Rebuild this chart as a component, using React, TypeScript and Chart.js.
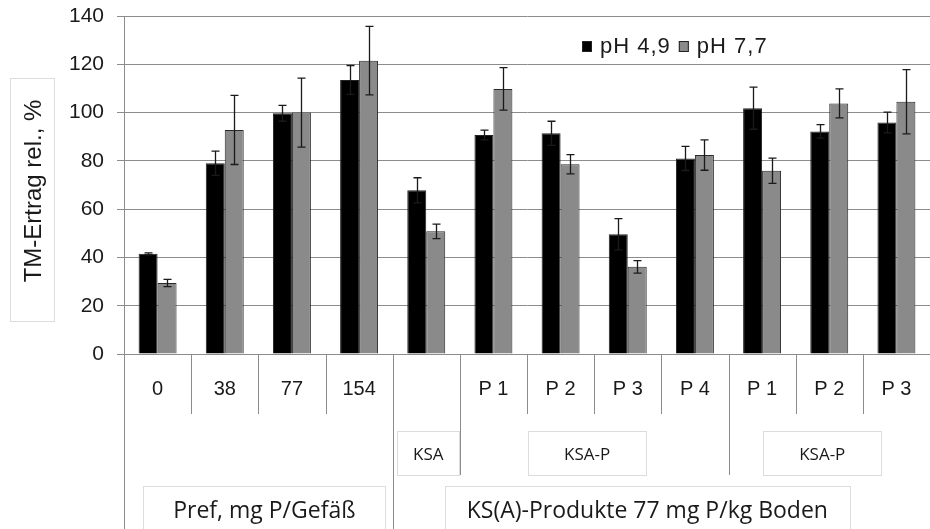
import React, { useEffect, useRef } from 'react';
import { Chart, registerables } from 'chart.js';

Chart.register(...registerables);

// ---- data ----
const categories = ['0', '38', '77', '154', '', 'P 1', 'P 2', 'P 3', 'P 4', 'P 1', 'P 2', 'P 3'];
const seriesLabels = ['pH 4,9', 'pH 7,7'];
const valuesPh49 = [41.5, 79, 99.7, 113.5, 67.8, 90.7, 91.4, 49.6, 81, 101.8, 92.2, 95.9];
const valuesPh77 = [29.4, 92.8, 100, 121.5, 50.8, 109.8, 78.6, 36.1, 82.4, 75.9, 103.8, 104.5];
const errorsPh49 = [0.4, 5, 3.3, 6, 5.2, 2, 5, 6.5, 5, 8.7, 2.8, 4.3];
const errorsPh77 = [1.5, 14.3, 14.3, 14.2, 3, 8.8, 4, 2.6, 6.3, 5.2, 6, 13.3];
const yTicks = [0, 20, 40, 60, 80, 100, 120, 140];
const yTitle = 'TM-Ertrag rel., %';
// group levels: [label, first category index, last category index]
const level2Groups: [string, number, number][] = [
  ['KSA', 4, 4],
  ['KSA-P', 5, 8],
  ['KSA-P', 9, 11],
];
const level3Groups: [string, number, number][] = [
  ['Pref, mg P/Gefäß', 0, 3],
  ['KS(A)-Produkte 77 mg P/kg Boden', 4, 11],
];

// ---- styles ----
const GRID = '#8c8c8c';
const BOX = '#dcdcdc';
const TEXT = '#1a1a1a';
const SANS = '"Liberation Sans", Arial, sans-serif';
const CAL = '"Open Sans", Lato, sans-serif';
const level2Pad = [16, 36, 36];
const level2Shift = [2, -7, -7];
const level3Pad = [30, 22];
const level3Shift = [6, -14];

const errorBarPlugin = {
  id: 'errorBars',
  afterDatasetsDraw(chart: any) {
    const ctx = chart.ctx;
    const y = chart.scales.y;
    const errs = [errorsPh49, errorsPh77];
    ctx.save();
    ctx.strokeStyle = '#1a1a1a';
    ctx.lineWidth = 1.3;
    chart.data.datasets.forEach((ds: any, d: number) => {
      const meta = chart.getDatasetMeta(d);
      meta.data.forEach((bar: any, i: number) => {
        const v = ds.data[i];
        const e = errs[d][i];
        const x = Math.round(bar.x) + 0.5;
        const yt = y.getPixelForValue(v + e);
        const yb = y.getPixelForValue(v - e);
        ctx.beginPath();
        ctx.moveTo(x, yt);
        ctx.lineTo(x, yb);
        ctx.moveTo(x - 4, yt);
        ctx.lineTo(x + 4, yt);
        ctx.moveTo(x - 4, yb);
        ctx.lineTo(x + 4, yb);
        ctx.stroke();
      });
    });
    ctx.restore();
  },
};

const decorPlugin = {
  id: 'decor',
  afterDraw(chart: any) {
    const ctx = chart.ctx;
    const xs = chart.scales.x;
    const area = chart.chartArea;
    const H = chart.height;
    const n = categories.length;
    const boundary = (b: number) => {
      if (b === 0) return area.left;
      if (b === n) return area.right;
      return (xs.getPixelForValue(b - 1) + xs.getPixelForValue(b)) / 2;
    };
    ctx.save();
    // separators
    const level3Starts = level3Groups.map((g) => g[1]);
    const level2Starts = level2Groups.map((g) => g[1]);
    ctx.strokeStyle = GRID;
    ctx.lineWidth = 1;
    for (let b = 0; b < n; b++) {
      let bottom = 414;
      if (level3Starts.includes(b)) bottom = H;
      else if (level2Starts.includes(b)) bottom = 475;
      const x = Math.round(boundary(b)) + 0.5;
      ctx.beginPath();
      ctx.moveTo(x, area.bottom);
      ctx.lineTo(x, bottom);
      ctx.stroke();
    }
    // level 2 boxes
    ctx.textAlign = 'center';
    ctx.textBaseline = 'middle';
    ctx.font = `17px ${CAL}`;
    level2Groups.forEach(([label, a, b], k) => {
      const cx = (boundary(a) + boundary(b + 1)) / 2 + level2Shift[k];
      const tw = ctx.measureText(label).width;
      const w = tw + 2 * level2Pad[k];
      ctx.fillStyle = '#fff';
      ctx.fillRect(cx - w / 2, 432, w, 44);
      ctx.strokeStyle = BOX;
      ctx.strokeRect(Math.round(cx - w / 2) + 0.5, 431.5, Math.round(w), 44);
      ctx.fillStyle = TEXT;
      ctx.fillText(label, cx, 455);
    });
    // level 3 boxes
    ctx.font = `23px ${CAL}`;
    level3Groups.forEach(([label, a, b], k) => {
      const cx = (boundary(a) + boundary(b + 1)) / 2 + level3Shift[k];
      const tw = ctx.measureText(label).width;
      const w = tw + 2 * level3Pad[k];
      ctx.fillStyle = '#fff';
      ctx.fillRect(cx - w / 2, 487, w, 60);
      ctx.strokeStyle = BOX;
      ctx.strokeRect(Math.round(cx - w / 2) + 0.5, 486.5, Math.round(w), 60);
      ctx.fillStyle = TEXT;
      ctx.fillText(label, cx, 511);
    });
    // y title box
    ctx.strokeStyle = BOX;
    ctx.strokeRect(10.5, 78.5, 44, 243);
    ctx.fillStyle = TEXT;
    ctx.font = `24px ${SANS}`;
    ctx.translate(34, 191);
    ctx.rotate(-Math.PI / 2);
    ctx.fillText(yTitle, 0, 0);
    ctx.restore();

    // legend
    ctx.save();
    ctx.font = `22px ${SANS}`;
    (ctx as any).letterSpacing = '1px';
    ctx.textAlign = 'left';
    ctx.textBaseline = 'middle';
    let lx = 582;
    const ly = 46;
    chart.data.datasets.forEach((ds: any) => {
      ctx.fillStyle = ds.backgroundColor;
      ctx.fillRect(lx, ly - 5, 10, 11);
      ctx.strokeStyle = '#222';
      ctx.lineWidth = 1;
      ctx.strokeRect(lx + 0.5, ly - 4.5, 9, 10);
      ctx.fillStyle = TEXT;
      ctx.fillText(ds.label, lx + 18, ly + 1);
      lx += 18 + ctx.measureText(ds.label).width + 8;
    });
    ctx.restore();
  },
};

export default function App() {
  const ref = useRef<HTMLCanvasElement>(null);
  useEffect(() => {
    document.body.style.margin = '0';
    const chart = new Chart(ref.current as HTMLCanvasElement, {
      type: 'bar',
      data: {
        labels: categories,
        datasets: [
          {
            label: seriesLabels[0],
            data: valuesPh49,
            backgroundColor: '#000000',
            borderColor: '#222222',
            borderWidth: 1,
            categoryPercentage: 0.565,
            barPercentage: 1,
          },
          {
            label: seriesLabels[1],
            data: valuesPh77,
            backgroundColor: '#8a8a8a',
            borderColor: '#2a2a2a',
            borderWidth: 1,
            categoryPercentage: 0.565,
            barPercentage: 1,
          },
        ],
      },
      options: {
        responsive: false,
        animation: false,
        layout: { padding: { top: 16, left: 0, right: 0, bottom: 0 } },
        plugins: { legend: { display: false }, tooltip: { enabled: false } },
        scales: {
          x: {
            afterFit: (s: any) => {
              s.height = 175;
              s.paddingLeft = 0;
              s.paddingRight = 0;
            },
            grid: { display: false, drawTicks: false },
            border: { display: true, color: GRID, width: 1 },
            ticks: { font: { size: 20, family: SANS }, color: TEXT, padding: 23, autoSkip: false, maxRotation: 0 },
          },
          y: {
            min: 0,
            max: 140,
            afterFit: (s: any) => {
              s.width = 124;
              s.paddingTop = 0;
              s.paddingBottom = 0;
            },
            afterBuildTicks: (s: any) => {
              s.ticks = yTicks.map((v) => ({ value: v }));
            },
            grid: { color: GRID, tickLength: 7, lineWidth: 1 },
            border: { display: true, color: GRID, width: 1 },
            ticks: { font: { size: 21, family: SANS }, color: TEXT, padding: 13 },
          },
        },
      },
      plugins: [errorBarPlugin, decorPlugin],
    });
    return () => chart.destroy();
  }, []);
  return <canvas ref={ref} width={930} height={529} style={{ display: 'block' }} />;
}
